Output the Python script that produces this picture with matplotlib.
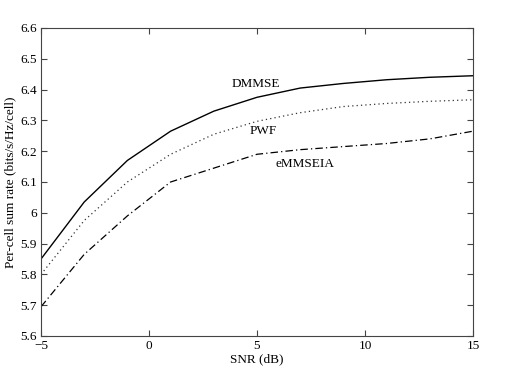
import matplotlib
matplotlib.use('Agg')
from matplotlib import pyplot as plt

plt.rcParams['font.family'] = ['Liberation Serif', 'DejaVu Serif']

snr = [-5, -3, -1, 1, 3, 5, 7, 9, 11, 13, 15]
dmmse = [5.85, 6.035, 6.17, 6.265, 6.33, 6.375, 6.405, 6.42, 6.432, 6.44, 6.445]
pwf = [5.80, 5.975, 6.10, 6.19, 6.255, 6.297, 6.325, 6.345, 6.355, 6.362, 6.367]
emmseia = [5.695, 5.865, 5.99, 6.10, 6.145, 6.19, 6.205, 6.215, 6.225, 6.24, 6.265]

fig = plt.figure(figsize=(5.26, 3.78), dpi=100)
ax = fig.add_axes([41 / 526, 1 - 336 / 378, 432 / 526, 308 / 378])

ax.plot(snr, dmmse, 'k-', lw=1.0)
ax.plot(snr, pwf, color='#333333', ls=(0, (1, 2.5)), lw=0.9)
ax.plot(snr, emmseia, 'k', ls=(0, (6, 2.5, 1, 2.5)), lw=0.9)

ax.text(4.95, 6.418, 'DMMSE', ha='center', va='center', fontsize=9.5)
ax.text(5.3, 6.266, 'PWF', ha='center', va='center', fontsize=9.5)
ax.text(7.2, 6.158, 'eMMSEIA', ha='center', va='center', fontsize=9.5)

ax.set_xlim(-5, 15)
ax.set_ylim(5.6, 6.6)
ax.set_xticks([-5, 0, 5, 10, 15])
ax.set_xticklabels(['\u22125', '0', '5', '10', '15'])
ax.set_yticks([5.6, 5.7, 5.8, 5.9, 6.0, 6.1, 6.2, 6.3, 6.4, 6.5, 6.6])
ax.set_yticklabels(['5.6', '5.7', '5.8', '5.9', '6', '6.1', '6.2', '6.3', '6.4', '6.5', '6.6'])
ax.tick_params(direction='in', top=True, right=True, labelsize=9.5, length=4,
               color='#444444', pad=3)
for s in ax.spines.values():
    s.set_color('#444444')
    s.set_linewidth(0.8)

ax.set_xlabel('SNR (dB)', fontsize=9.5, labelpad=1)
ax.set_ylabel('Per-cell sum rate (bits/s/Hz/cell)', fontsize=9.5, labelpad=3)

fig.savefig('out.png', dpi=100)
